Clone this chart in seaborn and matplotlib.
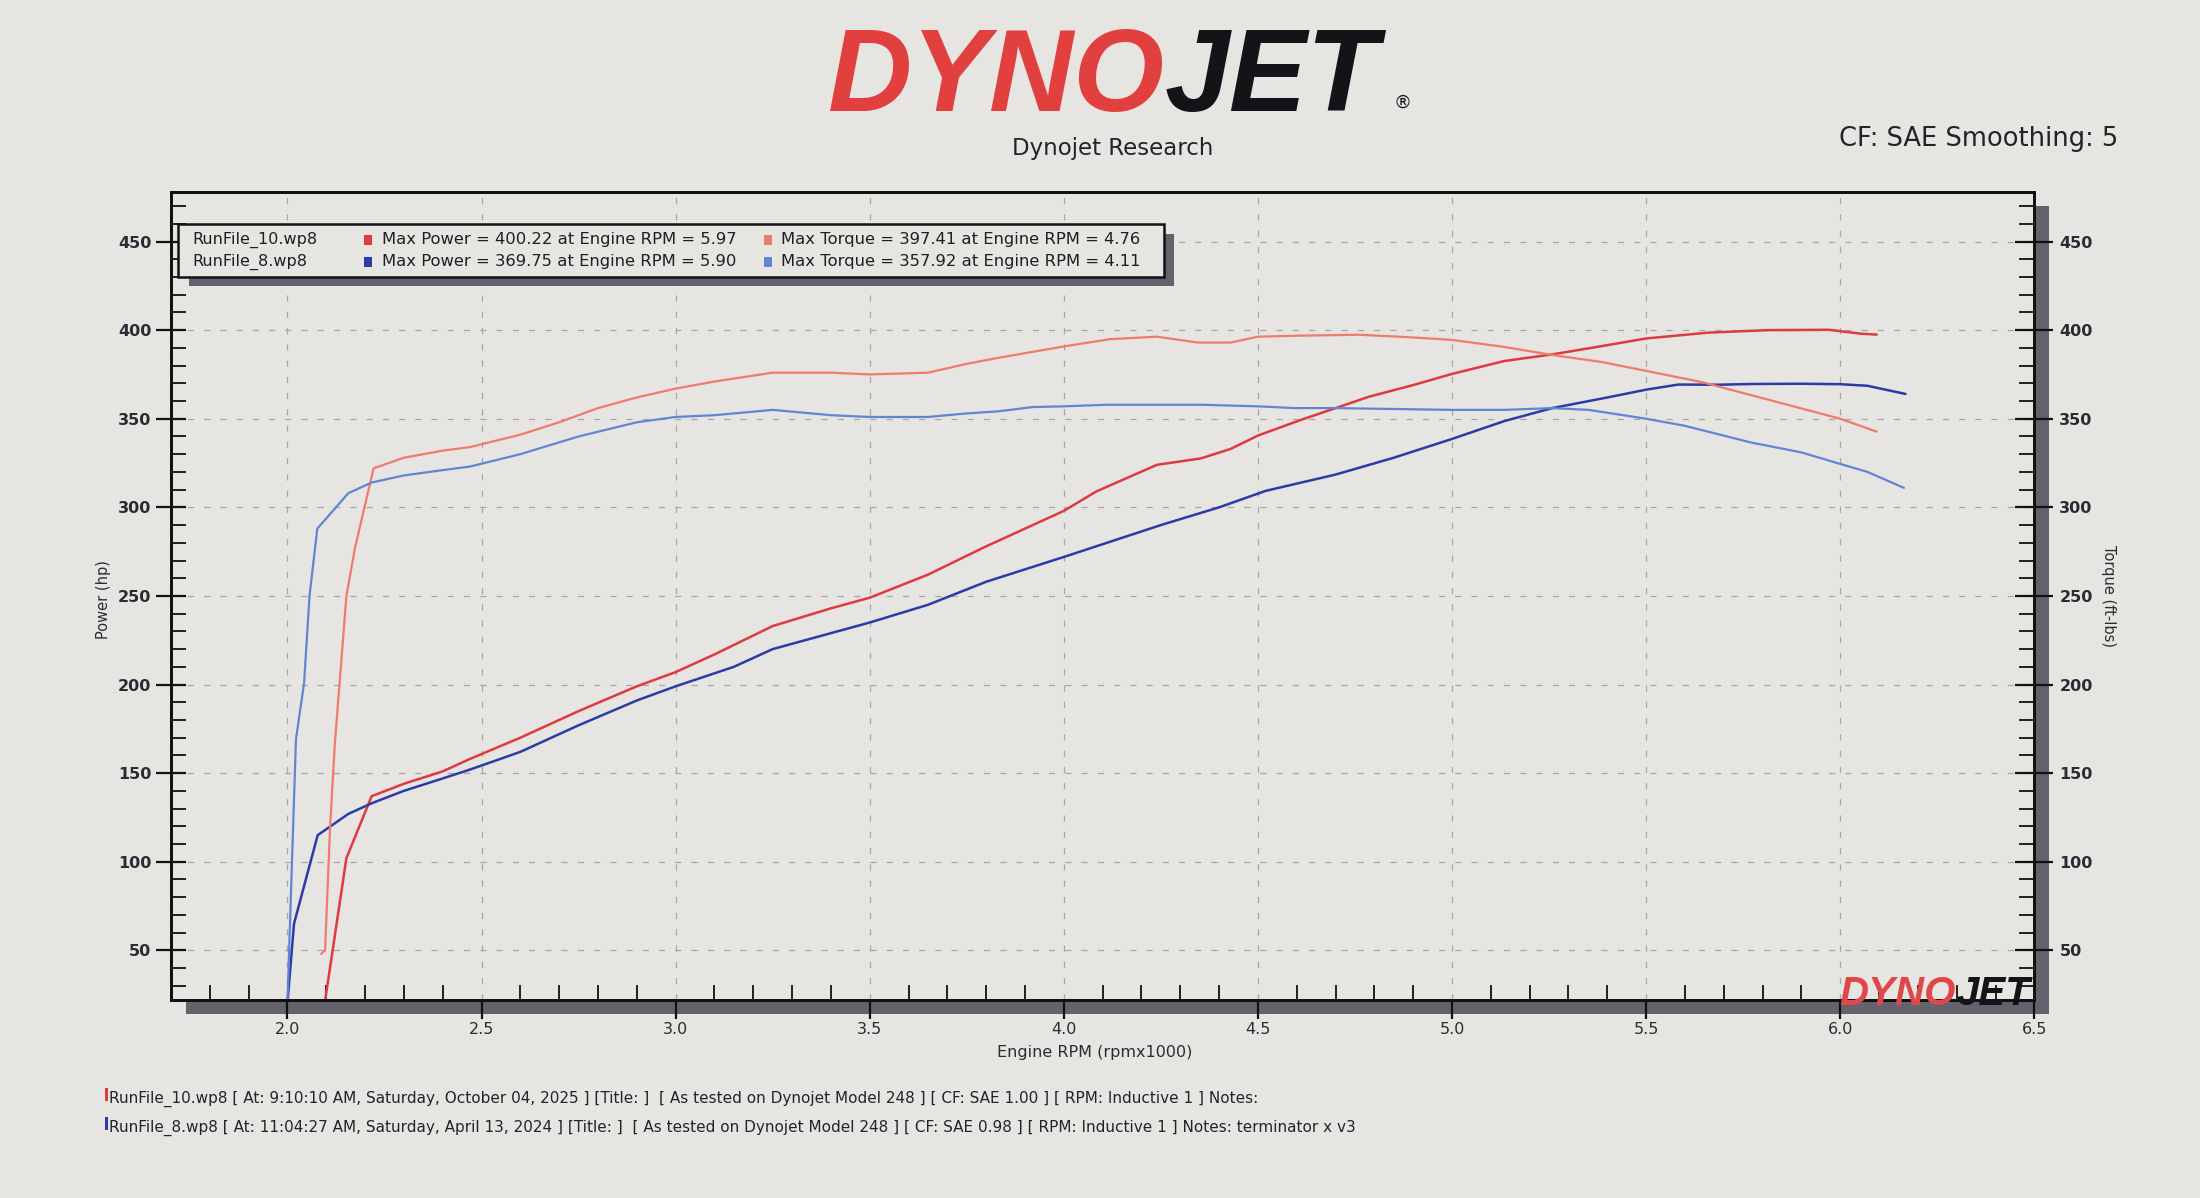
import numpy as np
import pandas as pd
import seaborn as sns
import matplotlib.pyplot as plt
from matplotlib.patches import Rectangle
from matplotlib.ticker import MultipleLocator


# 1. Values (rpm x1000 / hp / ft-lbs)

run10_power_rpm = [2.096, 2.152, 2.217, 2.30, 2.40, 2.47, 2.60, 2.75, 2.90, 3.00, 3.10, 3.25,
                   3.40, 3.50, 3.65, 3.80, 4.00, 4.084, 4.24, 4.353, 4.43, 4.50, 4.614, 4.70,
                   4.787, 4.90, 5.00, 5.135, 5.258, 5.386, 5.50, 5.66, 5.814, 5.97, 6.053, 6.094]
run10_power_hp = [20, 102, 137, 144, 151, 158, 170, 185, 199, 207, 217, 233,
                  243, 249, 262, 278, 298, 309, 324, 327.6, 333, 340.5, 349.6, 356,
                  362.5, 369, 375.3, 382.6, 386.3, 391, 395.3, 398.6, 400, 400.2, 398, 397.5]

run10_torque_rpm = [2.087, 2.097, 2.11, 2.122, 2.152, 2.174, 2.222, 2.30, 2.40, 2.47, 2.60, 2.70,
                    2.80, 2.90, 3.00, 3.10, 3.25, 3.40, 3.50, 3.65, 3.75, 3.832, 4.00, 4.119,
                    4.24, 4.345, 4.43, 4.50, 4.61, 4.76, 4.89, 5.00, 5.135, 5.258, 5.386, 5.50,
                    5.643, 5.814, 6.00, 6.094]
run10_torque_ftlb = [48, 50, 120, 166, 250, 277, 322, 328, 332, 334, 341, 348,
                     356, 362, 367, 371, 376, 376, 375, 376, 381, 384.4, 390.8, 394.9,
                     396.3, 393, 393, 396.3, 396.9, 397.4, 396, 394.5, 390.5, 386, 382, 377,
                     370.7, 360.8, 350, 342.7]

run8_power_rpm = [2.00, 2.017, 2.078, 2.157, 2.217, 2.30, 2.40, 2.47, 2.60, 2.75, 2.90, 3.00,
                  3.15, 3.25, 3.40, 3.50, 3.65, 3.80, 4.00, 4.25, 4.40, 4.52, 4.70, 4.85,
                  5.00, 5.135, 5.258, 5.40, 5.50, 5.583, 5.685, 5.77, 5.90, 6.00, 6.07, 6.168]
run8_power_hp = [20, 65, 115, 127, 133, 140, 147, 152, 162, 177, 191, 199,
                 210, 220, 229, 235, 245, 258, 272, 290, 300, 309.3, 318.5, 328,
                 338.6, 348.7, 356, 362, 366.4, 369.3, 369.2, 369.6, 369.75, 369.5, 368.6, 364]

run8_torque_rpm = [2.00, 2.022, 2.043, 2.057, 2.077, 2.157, 2.217, 2.30, 2.40, 2.47, 2.60, 2.75,
                   2.90, 3.00, 3.10, 3.25, 3.40, 3.50, 3.65, 3.75, 3.832, 3.92, 4.00, 4.11,
                   4.353, 4.50, 4.597, 4.70, 5.00, 5.135, 5.258, 5.352, 5.50, 5.60, 5.77, 5.90,
                   6.00, 6.07, 6.164]
run8_torque_ftlb = [20, 169, 201, 250, 288, 308, 314, 318, 321, 323, 330, 340,
                    348, 351, 352, 355, 352, 351, 351, 353, 354.2, 356.6, 357, 357.9,
                    357.9, 357, 356, 356, 355, 355, 356, 355, 350, 346, 336.6, 331,
                    324.5, 320, 311]

legend_rows = [
    ('RunFile_10.wp8', 'Max Power = 400.22 at Engine RPM = 5.97', 'Max Torque = 397.41 at Engine RPM = 4.76'),
    ('RunFile_8.wp8', 'Max Power = 369.75 at Engine RPM = 5.90', 'Max Torque = 357.92 at Engine RPM = 4.11'),
]
footer_lines = [
    'RunFile_10.wp8 [ At: 9:10:10 AM, Saturday, October 04, 2025 ] [Title: ]  [ As tested on Dynojet Model 248 ] '
    '[ CF: SAE 1.00 ] [ RPM: Inductive 1 ] Notes:',
    'RunFile_8.wp8 [ At: 11:04:27 AM, Saturday, April 13, 2024 ] [Title: ]  [ As tested on Dynojet Model 248 ] '
    '[ CF: SAE 0.98 ] [ RPM: Inductive 1 ] Notes: terminator x v3',
]

red_power = '#de3a40'
red_torque = '#ef7b6d'
blue_power = '#2b3ba8'
blue_torque = '#6185d4'
paper = '#e7e5e1'
shadow = '#64626c'
ink = '#111111'
logo_font = 'Liberation Sans'

# 2. Figure set-up

sns.set_theme(style='white')
plt.rcParams['font.family'] = ['DejaVu Sans']

fig = plt.figure(figsize=(22, 11.98), dpi=100, facecolor=paper)
pos = [0.0777, 0.1653, 0.847, 0.6745]

# drop shadow behind the plot frame
fig.patches.append(Rectangle((pos[0] + 15 / 2200, pos[1] - 14 / 1198), pos[2], pos[3],
                             transform=fig.transFigure, facecolor=shadow,
                             edgecolor='none', zorder=-1))

ax = fig.add_axes(pos)
ax.set_facecolor(paper)
ax2 = ax.twinx()

# 3. Curves: power on the left axis, torque on the right

power = pd.concat([
    pd.DataFrame({'rpm': run10_power_rpm, 'val': run10_power_hp, 'run': 'RunFile_10'}),
    pd.DataFrame({'rpm': run8_power_rpm, 'val': run8_power_hp, 'run': 'RunFile_8'}),
])
torque = pd.concat([
    pd.DataFrame({'rpm': run10_torque_rpm, 'val': run10_torque_ftlb, 'run': 'RunFile_10'}),
    pd.DataFrame({'rpm': run8_torque_rpm, 'val': run8_torque_ftlb, 'run': 'RunFile_8'}),
])

sns.lineplot(data=power, x='rpm', y='val', hue='run', ax=ax, sort=False, estimator=None,
             palette={'RunFile_10': red_power, 'RunFile_8': blue_power}, linewidth=1.8, legend=False)
sns.lineplot(data=torque, x='rpm', y='val', hue='run', ax=ax2, sort=False, estimator=None,
             palette={'RunFile_10': red_torque, 'RunFile_8': blue_torque}, linewidth=1.6, legend=False)

for a in (ax, ax2):
    a.set_xlim(1.7, 6.5)
    a.set_ylim(22, 478)
    a.set_yticks(np.arange(50, 451, 50))
    a.yaxis.set_minor_locator(MultipleLocator(10))
    for s in a.spines.values():
        s.set_color(ink)
        s.set_linewidth(2)

ax.xaxis.set_major_locator(MultipleLocator(0.5))
ax.xaxis.set_minor_locator(MultipleLocator(0.1))
ax.xaxis.set_major_formatter(plt.FuncFormatter(lambda v, p: f'{v:.1f}'))

ax.grid(True, which='major', color='#a9a7a6', linestyle=(0, (5, 8)), linewidth=0.9)
ax.set_axisbelow(True)

ax.tick_params(axis='y', which='major', direction='inout', length=22, width=1.6, color=ink,
               labelsize=11.5, labelcolor='#2e2a33', pad=3)
ax.tick_params(axis='y', which='minor', direction='in', length=11, width=1.3, color=ink, left=True)
ax.tick_params(axis='x', which='major', direction='out', length=14, width=1.6, color=ink,
               labelsize=11.5, labelcolor='#2e2a33', pad=2, bottom=True)
ax.tick_params(axis='x', which='minor', direction='in', length=11, width=1.3, color=ink, bottom=True)
ax2.tick_params(axis='y', which='major', direction='inout', length=28, width=1.6, color=ink,
                labelsize=11.5, labelcolor='#2e2a33', pad=4)
ax2.tick_params(axis='y', which='minor', direction='in', length=11, width=1.3, color=ink, right=True)
for lab in ax.get_yticklabels() + ax2.get_yticklabels():
    lab.set_fontweight('bold')

ax.set_xlabel('Engine RPM (rpmx1000)', fontsize=11.5, color='#2e2a33')
ax.xaxis.set_label_coords(0.496, -0.056)
ax.set_ylabel('Power (hp)', fontsize=10.5, color='#2e2a33')
ax.yaxis.set_label_coords(-0.032, 0.495)
ax2.set_ylabel('Torque (ft-lbs)', fontsize=10.5, color='#2e2a33', rotation=270, va='center')
ax2.yaxis.set_label_coords(1.04, 0.50)

# 4. Legend box with its shadow

ax2.add_patch(Rectangle((0.004 + 0.0055, 0.895 - 0.012), 0.529, 0.065, transform=ax2.transAxes,
                        facecolor=shadow, edgecolor='none', zorder=5, clip_on=False))
ax2.add_patch(Rectangle((0.004, 0.895), 0.529, 0.065, transform=ax2.transAxes,
                        facecolor=paper, edgecolor=ink, linewidth=1.8, zorder=6, clip_on=False))
row_y = [0.9406, 0.9134]
row_colors = [(red_power, red_torque), (blue_power, blue_torque)]
for (name, pw, tq), y, (cp, ct) in zip(legend_rows, row_y, row_colors):
    kw = dict(transform=ax2.transAxes, va='center', ha='left', zorder=7, color='#1e1e24')
    ax2.text(0.0113, y, name, fontsize=11.5, **kw)
    ax2.text(0.1132, y, pw, fontsize=11.8, **kw)
    ax2.text(0.3275, y, tq, fontsize=11.8, **kw)
    ax2.add_patch(Rectangle((0.1035, y - 0.0065), 0.0042, 0.013, transform=ax2.transAxes,
                            facecolor=cp, edgecolor='none', zorder=7))
    ax2.add_patch(Rectangle((0.3185, y - 0.0065), 0.0042, 0.013, transform=ax2.transAxes,
                            facecolor=ct, edgecolor='none', zorder=7))

# small logo in the lower right corner of the plot
logo_kw = dict(transform=ax2.transAxes, va='baseline', fontsize=29, fontweight='bold',
               fontstyle='italic', family=logo_font, zorder=7, clip_on=False)
ax2.text(0.958, -0.006, 'DYNO', ha='right', color='#e0474a', **logo_kw)
ax2.text(0.958, -0.006, 'JET', ha='left', color='#141418', **logo_kw)

# 5. Header and footer

head_kw = dict(va='baseline', fontsize=84, fontweight='bold', fontstyle='italic', family=logo_font)
fig.text(1165 / 2200, 1 - 111 / 1198, 'DYNO', ha='right', color='#e2403f', **head_kw)
fig.text(1165 / 2200, 1 - 111 / 1198, 'JET', ha='left', color='#141418', **head_kw)
fig.text(1403 / 2200, 1 - 103 / 1198, '®', ha='center', va='center', fontsize=13, color='#141418')
fig.text(1113 / 2200, 1 - 148 / 1198, 'Dynojet Research', ha='center', va='center', fontsize=16.5,
         color='#26222c')
fig.text(2118 / 2200, 0.884, 'CF: SAE Smoothing: 5', ha='right', va='center', fontsize=18.5,
         color='#26222c')

for line, y, c in zip(footer_lines, [0.0826, 0.0584], [red_power, blue_power]):
    fig.text(0.0497, y, line, ha='left', va='center', fontsize=11, color='#26222c')
    fig.patches.append(Rectangle((0.0478, y - 0.002), 0.0015, 0.011, transform=fig.transFigure,
                                 facecolor=c, edgecolor='none'))

fig.savefig('out.png', dpi=100, facecolor=paper)
